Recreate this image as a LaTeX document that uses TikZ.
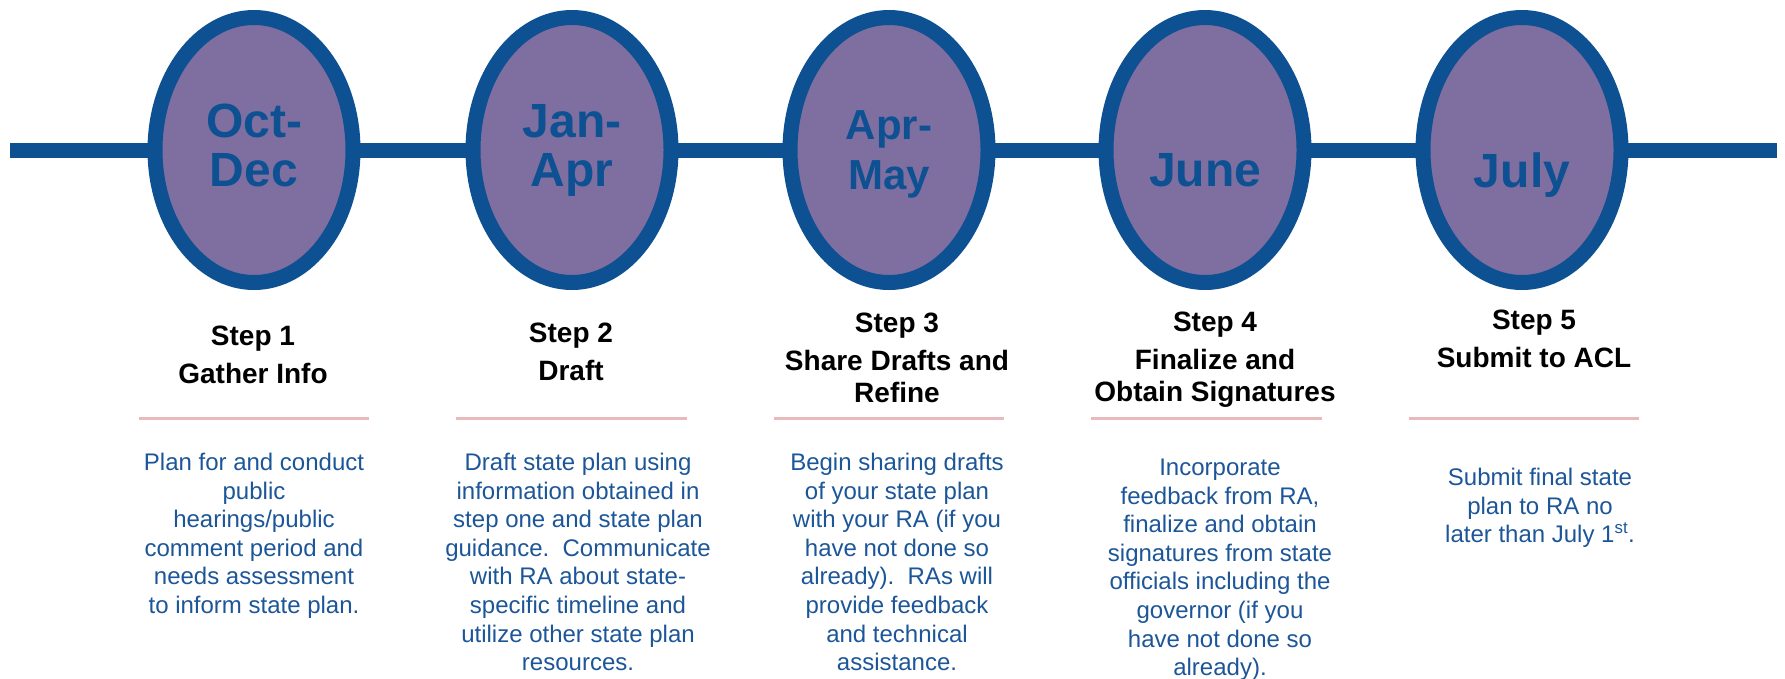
\documentclass[tikz,border=0pt]{standalone}
\usepackage{fontspec}
\setmainfont{Liberation Sans}
\usepackage{tikz}
\usetikzlibrary{shapes.geometric}

\definecolor{lineblue}{RGB}{13,81,146}
\definecolor{ovalpurple}{RGB}{127,110,160}
\definecolor{textblue}{RGB}{28,86,152}
\definecolor{rulepink}{RGB}{232,186,190}

\begin{document}
\begin{tikzpicture}[x=1pt,y=1pt,
  oval/.style={ellipse,draw=lineblue,fill=ovalpurple,line width=15pt,minimum width=198pt,minimum height=265pt,inner sep=0pt,outer sep=0pt},
  month/.style={text=lineblue,font=\fontsize{48}{49}\selectfont\bfseries,align=center},
  heading/.style={font=\fontsize{28}{32}\selectfont\bfseries,align=center},
  desc/.style={text=textblue,font=\fontsize{24}{28.6}\selectfont,align=center,anchor=north},
  timeline/.style={draw=lineblue,line width=15pt},
  divider/.style={draw=rulepink,line width=3.5pt}]
\useasboundingbox (0,0) rectangle (1785,-678);

% Draw the ovals on the timeline
\node[oval] (m1) at (254,-150) {};
\node[oval] (m2) at (572,-150) {};
\node[oval] (m3) at (889,-150) {};
\node[oval] (m4) at (1205,-150) {};
\node[oval] (m5) at (1522,-150) {};
\coordinate (tlstart) at (10,-150);
\coordinate (tlend) at (1777,-150);

% Draw timeline between the ovals
\draw[timeline] (tlstart) -- (m1);
\draw[timeline] (m1) -- (m2);
\draw[timeline] (m2) -- (m3);
\draw[timeline] (m3) -- (m4);
\draw[timeline] (m4) -- (m5);
\draw[timeline] (m5) -- (tlend);

% Months
\node[month] (t1) at ([yshift=5pt]m1.center) {Oct-\\Dec};
\node[month] (t2) at (m2.center) {Jan-\\Apr};
\node[month,font=\fontsize{42}{50}\selectfont\bfseries] (t3) at ([yshift=-4.5pt]m3.center) {Apr-\\May};
\node[month] (t4) at ([yshift=-20.5pt]m4.center) {June};
\node[month] (t5) at ([yshift=-25.5pt]m5.center) {July};

% Step 1
\node[heading] (h1) at (253,-355) {Step 1\\[6pt]Gather Info};
\draw[divider] (139,-418.5) -- (369,-418.5);
\node[desc] (d1) at (254,-449.5) {Plan for and conduct\\public\\hearings/public\\comment period and\\needs assessment\\to inform state plan.};

% Step 2
\node[heading] (h2) at (571,-352) {Step 2\\[6pt]Draft};
\draw[divider] (456,-418.5) -- (687,-418.5);
\node[desc] (d2) at (578,-449.5) {Draft state plan using\\information obtained in\\step one and state plan\\guidance.\ \ Communicate\\with RA about state-\\specific timeline and\\utilize other state plan\\resources.};

% Step 3
\node[heading] (h3) at (897,-358) {Step 3\\[6pt]Share Drafts and\\Refine};
\draw[divider] (774,-418.5) -- (1004,-418.5);
\node[desc] (d3) at (897,-449.5) {Begin sharing drafts\\of your state plan\\with your RA (if you\\have not done so\\already).\ \ RAs will\\provide feedback\\and technical\\assistance.};

% Step 4
\node[heading] (h4) at (1215,-360) {Step 4\\[6pt]Finalize and\\Obtain Signatures};
\draw[divider] (1091,-418.5) -- (1322,-418.5);
\node[desc] (d4) at (1220,-455.5) {Incorporate\\feedback from RA,\\finalize and obtain\\signatures from state\\officials including the\\governor (if you\\have not done so\\already).};

% Step 5
\node[heading] (h5) at (1534,-339) {Step 5\\[6pt]Submit to ACL};
\draw[divider] (1409,-418.5) -- (1639,-418.5);
\node[desc] (d5) at (1540,-464.5) {Submit final state\\plan to RA no\\later than July 1\textsuperscript{st}.};
\end{tikzpicture}
\end{document}
